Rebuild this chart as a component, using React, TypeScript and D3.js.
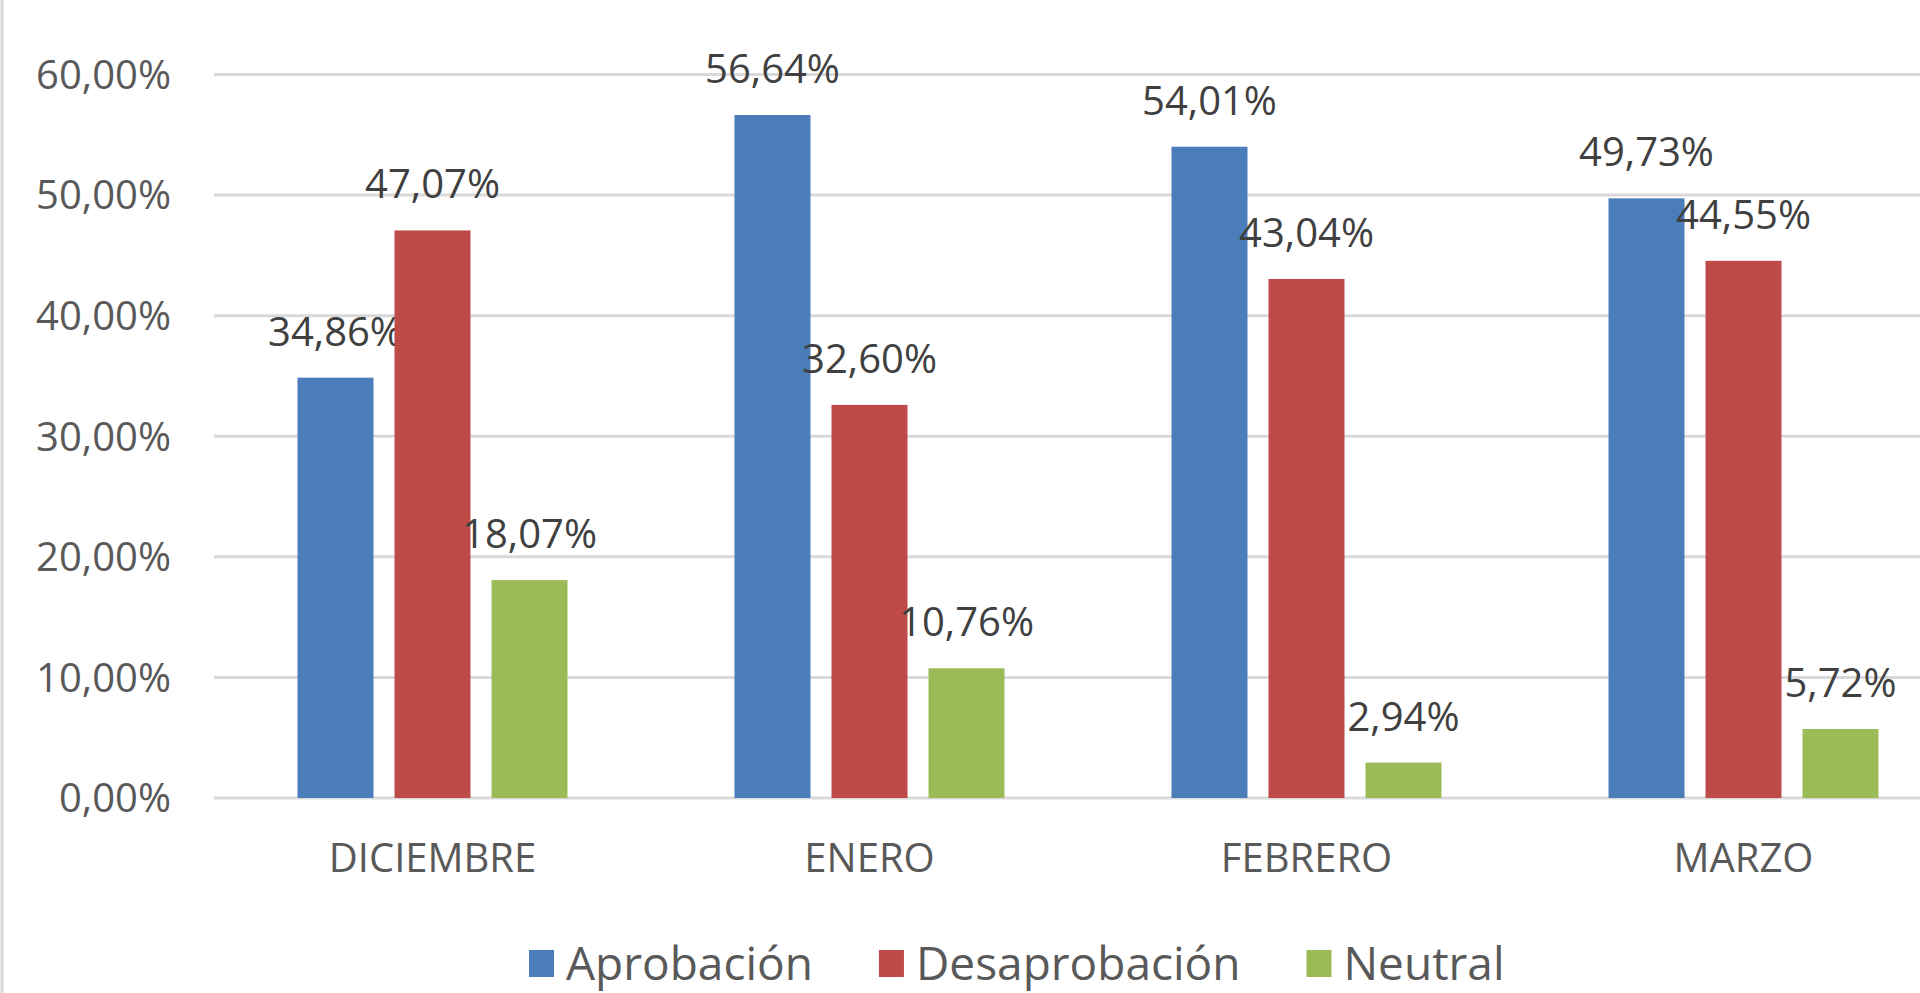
import React, { useEffect, useRef } from "react";
import * as d3 from "d3";

const categories = ["DICIEMBRE", "ENERO", "FEBRERO", "MARZO"];
const seriesNames = ["Aprobación", "Desaprobación", "Neutral"];
const aprobacion = [34.86, 56.64, 54.01, 49.73];
const desaprobacion = [47.07, 32.6, 43.04, 44.55];
const neutral = [18.07, 10.76, 2.94, 5.72];
const yTicks = [0, 10, 20, 30, 40, 50, 60];
const colors = ["#4a7dba", "#be4b48", "#9bbb59"];

const W = 1920;
const H = 993;
const FONT = "'Open Sans', 'Noto Sans', sans-serif";

const fmt = (v: number) => v.toFixed(2).replace(".", ",") + "%";

export default function App() {
  const ref = useRef<SVGSVGElement | null>(null);

  useEffect(() => {
    const svg = d3.select(ref.current);
    svg.selectAll("*").remove();
    const values = [aprobacion, desaprobacion, neutral];

    const plotLeft = 214;
    const band = 437;
    const x = d3
      .scaleBand<string>()
      .domain(categories)
      .range([plotLeft, plotLeft + band * categories.length])
      .paddingInner(0)
      .paddingOuter(0);
    const xs = d3
      .scaleBand<string>()
      .domain(seriesNames)
      .range([83.5, 83.5 + 270])
      .paddingInner(0.2165)
      .paddingOuter(0);
    const y = d3.scaleLinear().domain([0, 60]).range([798, 74.5]);

    svg.append("rect").attr("x", 0).attr("y", 0).attr("width", W).attr("height", H).attr("fill", "#ffffff");
    // left border
    svg.append("line").attr("x1", 2).attr("x2", 2).attr("y1", 0).attr("y2", H).attr("stroke", "#d9d9d9").attr("stroke-width", 3);

    // gridlines
    svg
      .append("g")
      .selectAll("line")
      .data(yTicks)
      .join("line")
      .attr("x1", plotLeft)
      .attr("x2", W)
      .attr("y1", (d) => y(d))
      .attr("y2", (d) => y(d))
      .attr("stroke", "#d9d9d9")
      .attr("stroke-width", 3);

    // y labels
    svg
      .append("g")
      .selectAll("text")
      .data(yTicks)
      .join("text")
      .attr("x", 171)
      .attr("y", (d) => y(d))
      .attr("dy", "0.36em")
      .attr("text-anchor", "end")
      .attr("font-family", FONT)
      .attr("font-size", 40)
      .attr("fill", "#595959")
      .text((d) => d.toFixed(2).replace(".", ",") + "%");

    // bars
    values.forEach((vals, si) => {
      const g = svg.append("g");
      g.selectAll("rect")
        .data(vals)
        .join("rect")
        .attr("x", (d, i) => (x(categories[i]) as number) + (xs(seriesNames[si]) as number))
        .attr("y", (d) => y(d))
        .attr("width", xs.bandwidth())
        .attr("height", (d) => y(0) - y(d))
        .attr("fill", colors[si]);
      g.selectAll("text")
        .data(vals)
        .join("text")
        .attr("x", (d, i) => (x(categories[i]) as number) + (xs(seriesNames[si]) as number) + xs.bandwidth() / 2)
        .attr("y", (d) => y(d) - 32)
        .attr("text-anchor", "middle")
        .attr("font-family", FONT)
        .attr("font-size", 40)
        .attr("fill", "#404040")
        .text((d) => fmt(d));
    });

    // x labels
    svg
      .append("g")
      .selectAll("text")
      .data(categories)
      .join("text")
      .attr("x", (d) => (x(d) as number) + x.bandwidth() / 2)
      .attr("y", 872)
      .attr("text-anchor", "middle")
      .attr("font-family", FONT)
      .attr("font-size", 40)
      .attr("fill", "#595959")
      .text((d) => d);

    // legend
    const lg = svg.append("g");
    let cx = 529;
    seriesNames.forEach((name, i) => {
      lg.append("rect").attr("x", cx).attr("y", 950).attr("width", 25).attr("height", 27).attr("fill", colors[i]);
      const t = lg
        .append("text")
        .attr("x", cx + 37)
        .attr("y", 980)
        .attr("font-family", FONT)
        .attr("font-size", 46)
        .attr("fill", "#595959")
        .text(name);
      const w = (t.node() as SVGTextElement).getComputedTextLength();
      cx = cx + 37 + w + 66;
    });
  }, []);

  return (
    <svg
      ref={ref}
      width={W}
      height={H}
      style={{ position: "absolute", left: 0, top: 0, display: "block" }}
    />
  );
}
